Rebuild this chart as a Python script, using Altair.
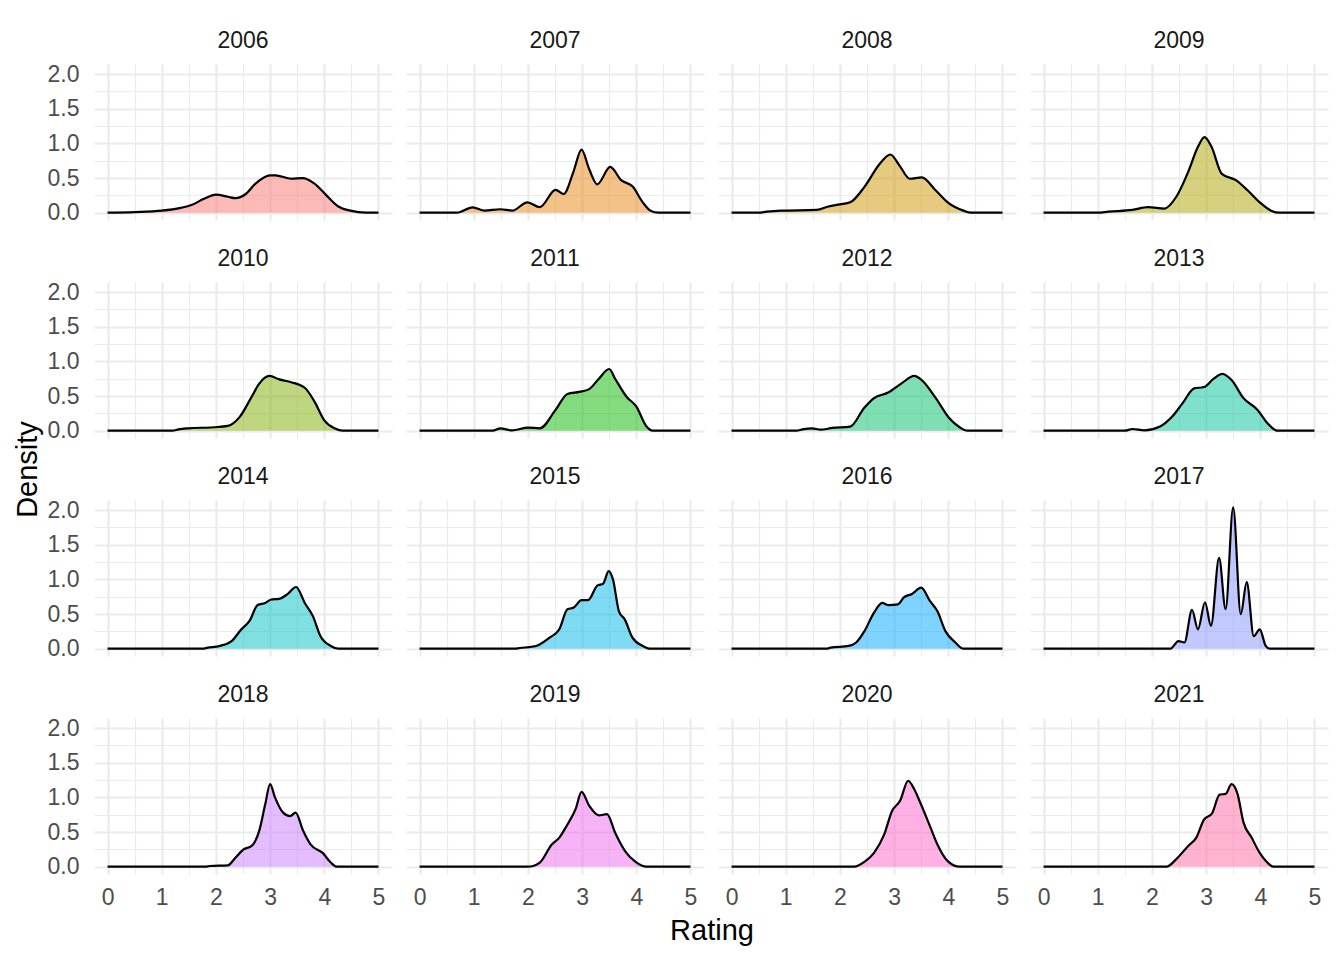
import math
import altair as alt
import pandas as pd

# ---- data (knots of each density curve) ----
years = [2006, 2007, 2008, 2009, 2010, 2011, 2012, 2013,
         2014, 2015, 2016, 2017, 2018, 2019, 2020, 2021]

r2006 = [0, 0.5, 1.0, 1.35, 1.56, 1.78, 2.0, 2.22, 2.36, 2.55, 2.73, 3.0, 3.1, 3.39, 3.6, 3.82, 4.04, 4.26, 4.48, 4.77, 5]
d2006 = [0, 0.01, 0.03, 0.07, 0.115, 0.2, 0.26, 0.23, 0.21, 0.27, 0.42, 0.54, 0.54, 0.49, 0.5, 0.42, 0.25, 0.09, 0.03, 0, 0]

r2007 = [0, 0.69, 0.98, 1.2, 1.49, 1.71, 1.99, 2.22, 2.51, 2.66, 2.84, 2.99, 3.13, 3.28, 3.52, 3.72, 3.93, 4.12, 4.26, 4.41, 5]
d2007 = [0, 0, 0.077, 0.03, 0.05, 0.03, 0.15, 0.08, 0.33, 0.27, 0.59, 0.91, 0.63, 0.41, 0.66, 0.47, 0.38, 0.15, 0.03, 0, 0]

r2008 = [0, 0.5, 0.65, 0.91, 1.57, 1.79, 2.0, 2.19, 2.45, 2.74, 2.93, 3.1, 3.29, 3.51, 3.77, 4.02, 4.28, 4.42, 5]
d2008 = [0, 0, 0.015, 0.03, 0.04, 0.09, 0.12, 0.15, 0.37, 0.71, 0.84, 0.68, 0.49, 0.51, 0.32, 0.13, 0.03, 0, 0]

r2009 = [0, 1.0, 1.2, 1.64, 1.93, 2.23, 2.45, 2.67, 2.85, 2.97, 3.1, 3.29, 3.55, 3.77, 3.99, 4.2, 4.35, 5]
d2009 = [0, 0, 0.015, 0.04, 0.08, 0.06, 0.23, 0.59, 0.95, 1.09, 0.95, 0.56, 0.47, 0.32, 0.15, 0.03, 0, 0]

r2010 = [0, 1.2, 1.31, 1.49, 1.96, 2.22, 2.44, 2.66, 2.8, 2.99, 3.17, 3.39, 3.64, 3.82, 4.0, 4.19, 4.34, 5]
d2010 = [0, 0, 0.02, 0.035, 0.05, 0.07, 0.2, 0.49, 0.68, 0.79, 0.74, 0.7, 0.62, 0.42, 0.15, 0.035, 0, 0]

r2011 = [0, 1.35, 1.49, 1.71, 2.0, 2.22, 2.51, 2.73, 2.95, 3.13, 3.31, 3.5, 3.61, 3.82, 4.0, 4.19, 4.3, 5]
d2011 = [0, 0, 0.035, 0.005, 0.045, 0.035, 0.3, 0.53, 0.56, 0.6, 0.75, 0.89, 0.75, 0.49, 0.35, 0.06, 0, 0]

r2012 = [0, 1.2, 1.31, 1.49, 1.64, 1.86, 2.19, 2.45, 2.63, 2.89, 3.15, 3.37, 3.51, 3.77, 4.02, 4.21, 4.35, 5]
d2012 = [0, 0, 0.02, 0.035, 0.015, 0.04, 0.06, 0.33, 0.47, 0.55, 0.69, 0.79, 0.73, 0.47, 0.18, 0.05, 0, 0]

r2013 = [0, 1.5, 1.64, 1.86, 2.15, 2.37, 2.56, 2.78, 2.96, 3.14, 3.3, 3.47, 3.69, 3.95, 4.13, 4.32, 5]
d2013 = [0, 0, 0.025, 0.005, 0.06, 0.2, 0.39, 0.61, 0.63, 0.75, 0.82, 0.73, 0.47, 0.3, 0.11, 0, 0]

r2014 = [0, 1.75, 1.85, 2.07, 2.29, 2.47, 2.62, 2.77, 2.91, 3.02, 3.17, 3.31, 3.48, 3.64, 3.79, 3.93, 4.12, 4.26, 5]
d2014 = [0, 0, 0.015, 0.04, 0.11, 0.28, 0.4, 0.63, 0.66, 0.71, 0.72, 0.78, 0.89, 0.66, 0.47, 0.18, 0.04, 0, 0]

r2015 = [0, 1.75, 1.85, 2.15, 2.4, 2.58, 2.73, 2.84, 2.99, 3.11, 3.28, 3.39, 3.49, 3.57, 3.68, 3.79, 3.93, 4.12, 4.26, 5]
d2015 = [0, 0, 0.01, 0.04, 0.16, 0.28, 0.57, 0.59, 0.7, 0.7, 0.91, 0.94, 1.12, 1.0, 0.54, 0.42, 0.16, 0.04, 0, 0]

r2016 = [0, 1.75, 1.83, 2.16, 2.3, 2.45, 2.63, 2.78, 2.89, 3.07, 3.18, 3.33, 3.5, 3.66, 3.8, 3.95, 4.13, 4.28, 5]
d2016 = [0, 0, 0.015, 0.04, 0.09, 0.25, 0.52, 0.66, 0.63, 0.64, 0.74, 0.79, 0.88, 0.69, 0.54, 0.25, 0.09, 0, 0]

r2017 = [0, 2.34, 2.49, 2.6, 2.74, 2.85, 2.98, 3.09, 3.24, 3.36, 3.5, 3.64, 3.75, 3.88, 3.99, 4.1, 4.17, 5]
d2017 = [0, 0, 0.11, 0.09, 0.56, 0.28, 0.67, 0.33, 1.31, 0.57, 2.04, 0.5, 0.96, 0.18, 0.28, 0.04, 0, 0]

r2018 = [0, 1.8, 1.89, 2.22, 2.36, 2.51, 2.66, 2.8, 2.91, 3.0, 3.09, 3.24, 3.37, 3.47, 3.61, 3.75, 3.97, 4.12, 4.23, 5]
d2018 = [0, 0, 0.01, 0.02, 0.13, 0.25, 0.3, 0.52, 0.9, 1.19, 1.0, 0.78, 0.73, 0.78, 0.52, 0.32, 0.2, 0.06, 0, 0]

r2019 = [0, 2.0, 2.22, 2.44, 2.58, 2.73, 2.88, 2.99, 3.13, 3.31, 3.46, 3.61, 3.79, 3.97, 4.19, 5]
d2019 = [0, 0, 0.06, 0.32, 0.42, 0.61, 0.83, 1.08, 0.88, 0.74, 0.76, 0.49, 0.23, 0.08, 0, 0]

r2020 = [0, 2.27, 2.45, 2.63, 2.82, 2.96, 3.11, 3.26, 3.37, 3.48, 3.66, 3.8, 3.99, 4.21, 5]
d2020 = [0, 0, 0.07, 0.2, 0.47, 0.8, 0.95, 1.24, 1.12, 0.93, 0.59, 0.32, 0.08, 0, 0]

r2021 = [0, 2.27, 2.45, 2.67, 2.82, 2.96, 3.11, 3.25, 3.36, 3.47, 3.58, 3.69, 3.84, 3.99, 4.13, 4.24, 5]
d2021 = [0, 0, 0.11, 0.3, 0.42, 0.68, 0.77, 1.04, 1.05, 1.19, 1.05, 0.64, 0.42, 0.2, 0.06, 0, 0]

x_ticks = [0, 0.5, 1, 1.5, 2, 2.5, 3, 3.5, 4, 4.5, 5]
y_ticks = [0, 0.25, 0.5, 0.75, 1.0, 1.25, 1.5, 1.75, 2.0]

curves = {
    2006: (r2006, d2006), 2007: (r2007, d2007), 2008: (r2008, d2008), 2009: (r2009, d2009),
    2010: (r2010, d2010), 2011: (r2011, d2011), 2012: (r2012, d2012), 2013: (r2013, d2013),
    2014: (r2014, d2014), 2015: (r2015, d2015), 2016: (r2016, d2016), 2017: (r2017, d2017),
    2018: (r2018, d2018), 2019: (r2019, d2019), 2020: (r2020, d2020), 2021: (r2021, d2021),
}

rows = []
for yr in years:
    rs, ds = curves[yr]
    for r, d in zip(rs, ds):
        rows.append({"year": str(yr), "Rating": r, "Density": d})
df = pd.DataFrame(rows)


# ggplot2 default hue palette (HCL, l=65, c=100)
def hcl_hex(h, c=100.0, l=65.0):
    hr = math.radians(h)
    u, v = c * math.cos(hr), c * math.sin(hr)
    Xn, Yn, Zn = 0.95047, 1.0, 1.08883
    Y = ((l + 16) / 116) ** 3 if l > 8 else l / 903.3
    un = 4 * Xn / (Xn + 15 * Yn + 3 * Zn)
    vn = 9 * Yn / (Xn + 15 * Yn + 3 * Zn)
    up = u / (13 * l) + un
    vp = v / (13 * l) + vn
    X = Y * 9 * up / (4 * vp)
    Z = Y * (12 - 3 * up - 20 * vp) / (4 * vp)
    rl = 3.240479 * X - 1.537150 * Y - 0.498535 * Z
    gl = -0.969256 * X + 1.875992 * Y + 0.041556 * Z
    bl = 0.055648 * X - 0.204043 * Y + 1.057311 * Z

    def gam(t):
        t = 1.055 * t ** (1 / 2.4) - 0.055 if t > 0.0031308 else 12.92 * t
        return min(255, max(0, round(t * 255)))

    return "#%02x%02x%02x" % (gam(rl), gam(gl), gam(bl))


palette = [hcl_hex(15 + 360 / 16 * i) for i in range(16)]
year_labels = [str(y) for y in years]

FONT = "Liberation Sans"

x_enc = alt.X(
    "Rating:Q",
    scale=alt.Scale(domain=[-0.25, 5.25], nice=False, zero=False),
    axis=alt.Axis(
        title=None,
        values=x_ticks,
        labelExpr="datum.value % 1 === 0 ? format(datum.value, 'd') : ''",
        gridWidth={"condition": {"test": "datum.value % 1 === 0", "value": 2.2}, "value": 1.1},
        labelFlush=False,
        labelPadding=12,
    ),
)
y_enc = alt.Y(
    "Density:Q",
    stack=None,
    scale=alt.Scale(domain=[-0.105, 2.145], nice=False, zero=False),
    axis=alt.Axis(
        title=None,
        values=y_ticks,
        labelExpr="round(datum.value * 4) % 2 === 0 ? format(datum.value, '.1f') : ''",
        gridWidth={"condition": {"test": "round(datum.value * 4) % 2 === 0", "value": 2.2}, "value": 1.1},
        labelPadding=15,
    ),
)

area = alt.Chart().mark_area(interpolate="monotone", fillOpacity=0.5).encode(
    x=x_enc,
    y=y_enc,
    color=alt.Color("year:N", scale=alt.Scale(domain=year_labels, range=palette), legend=None),
)
line = alt.Chart().mark_line(interpolate="monotone", color="black", strokeWidth=2.2).encode(
    x=x_enc,
    y=y_enc,
)

facet = alt.layer(area, line, data=df).properties(width=298, height=156).facet(
    facet=alt.Facet("year:N", title=None, sort=year_labels,
                    header=alt.Header(labelFontSize=23, labelColor="#1a1a1a", labelFont=FONT,
                                      labelPadding=11)),
    columns=4,
    spacing={"row": 28, "column": 14},
).properties(
    title=alt.TitleParams("Density", orient="left", fontSize=29, font=FONT, fontWeight="normal",
                          color="black", anchor="middle", offset=4),
)

chart = alt.vconcat(facet).properties(
    title=alt.TitleParams("Rating", orient="bottom", fontSize=29, font=FONT, fontWeight="normal",
                          color="black", anchor="middle", offset=8, dx=41),
    padding={"top": 22, "left": 6, "right": 6, "bottom": 6},
    background="white",
).configure_view(stroke=None).configure_axis(
    domain=False, ticks=False, gridColor="#ebebeb",
    labelFont=FONT, labelFontSize=23, labelColor="#4d4d4d",
)

chart.save("out.html", embed_options={"renderer": "svg", "actions": False})
